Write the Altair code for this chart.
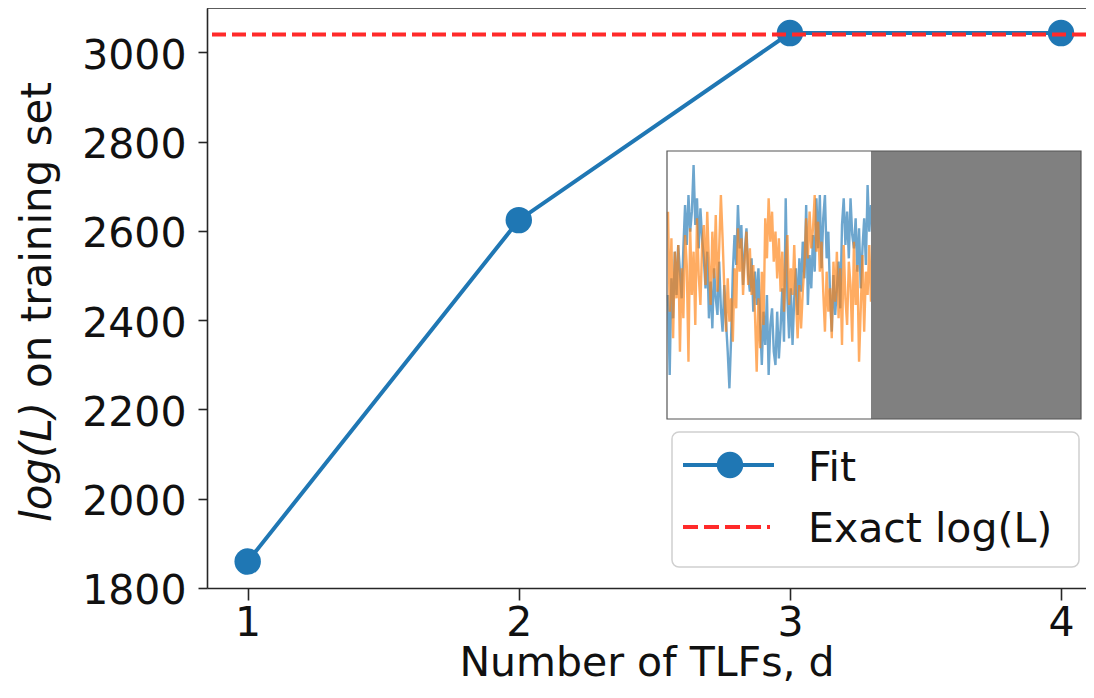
import altair as alt
import pandas as pd

# ---------------- data ----------------
d_vals = [1, 2, 3, 4]
fit_vals = [1859, 2624, 3043, 3043]
exact_val = 3040
x_ticks = [1, 2, 3, 4]
y_ticks = [1800, 2000, 2200, 2400, 2600, 2800, 3000]

# inset time series (arbitrary units)
inset_blue = [
    -0.5, -2.9, 0.0, -1.2,
    0.8, -0.5, 1.0, 0.2, -0.6, 0.9,
    2.2, 1.0, 2.5, 1.4, 2.0, 3.4, 1.6, 2.4, 0.9, 2.1, 1.2, 0.6,
    -0.3, 0.8, -1.2, -0.1, -1.5, 0.3, -0.6, -1.1, 0.5, -0.9, -1.6, -0.2, -1.3, -2.2,
    -3.3, -1.8, 0.2,
    1.3, 0.4, 2.2, 0.9, 1.6, -0.2, 0.8, 1.5, 0.1,
    -0.4, 0.6, -1.0, 0.2, -0.8, 0.3, -1.3,
    -2.6, -1.0, -2.0, -0.5, -2.9, -1.4, -0.9,
    -2.2, -2.6, -1.0, -2.4, -1.5, -0.3, -1.9, 2.4, -0.6,
    -1.8, -0.3, -2.0, -0.6, 0.3, -1.1,
    0.6, -0.4, 1.1, 0.0, 2.2, -0.8, 0.7, -0.3, 1.3, 0.2, 2.4, 0.9,
    2.5, 0.3, 1.8, 2.5, 0.6, 1.4,
    -0.5, -1.6, 0.1, -1.1, -0.3, 0.5, -0.9, 1.6,
    2.4, 1.0, 2.0, 0.6, 2.4, 1.3, 0.9, 1.8,
    0.2, 1.5, -0.3, 0.9, 1.8, 0.4,
    2.8, 1.4, 2.2,
]
inset_orange = [
    2.0, -1.0, 1.2, -1.8,
    0.8, -0.6, 1.0, -2.2, 0.3, -1.2, 1.3,
    0.4, -2.5, 1.5, -0.5, 0.8, -1.4, 1.8, 0.1, -0.8, 1.0,
    1.6, -0.2, 2.0, 0.5, -0.8, 1.4, 0.0, 1.9, -0.4, 0.9, 2.5, 1.2,
    -0.3, -1.6, 0.0, -1.3, -0.6, -1.9, 0.3, -0.9,
    1.5, 0.2, 1.2, -0.5, 0.6, 1.4, -0.2, 0.9, -0.5, 0.4, -1.1, -2.8,
    -0.6, -2.1, 0.2, -1.4,
    1.8, 0.6, 2.4, 1.1, 2.0, 0.5, 1.4, 0.0,
    1.2, -0.4, 0.8, -1.0, 0.5, 1.3, -0.8, 0.3, -0.5, 1.0,
    -0.6, -1.8, -0.2, -1.5, -0.4, 0.4,
    1.8, 0.6, 2.0, 0.9, 1.5, 2.5, 0.8, 1.7, 0.2, 1.1,
    -0.4, -1.6, 0.2, -1.0, -0.3, -1.8, 0.5, -0.7,
    0.8, -1.2, 0.3, -2.0, 1.0, -0.6, -1.4, 0.5,
    -0.2, -1.9, 1.1, -0.8, 0.4, -2.5, -0.9, 0.7, -1.6, 0.2, -0.5, 1.0, -0.7,
]

legend_labels = ["Fit", "Exact log(L)"]
x_title = "Number of TLFs, d"
y_title_italic = "log(L)"
y_title_rest = "on training set"

# ---------------- styling ----------------
W, H = 879, 580
FONT = "DejaVu Sans"
BLUE = "#1f77b4"
ORANGE = "#ff7f0e"
RED = "#ff2a2a"
INK = "#111111"
SPINE = "#262626"

one = pd.DataFrame({"k": [0]})

xs = alt.Scale(domain=[0.85, 4.092], nice=False, zero=False)
ys = alt.Scale(domain=[1799.8, 3099.2], nice=False, zero=False)

main_df = pd.DataFrame({"d": d_vals, "logL": fit_vals})

line = alt.Chart(main_df).mark_line(color=BLUE, strokeWidth=4).encode(
    x=alt.X("d:Q", scale=xs, axis=alt.Axis(
        values=x_ticks, title=x_title, format="d", grid=False,
        domainColor=SPINE, domainWidth=1.6, tickColor=SPINE, tickWidth=1.6,
        tickSize=12, labelPadding=3, labelFont=FONT, labelFontSize=41,
        labelColor=INK, titleFont=FONT, titleFontSize=41, titleFontWeight="normal",
        titleColor=INK, titlePadding=0)),
    y=alt.Y("logL:Q", scale=ys, axis=alt.Axis(
        values=y_ticks, title=None, format="d", grid=False,
        domainColor=SPINE, domainWidth=1.6, tickColor=SPINE, tickWidth=1.6,
        tickSize=9, labelPadding=12, labelOffset=4, labelFont=FONT,
        labelFontSize=41, labelColor=INK)),
)

pts = alt.Chart(main_df).mark_point(filled=True, size=700, color=BLUE, opacity=1).encode(
    x=alt.X("d:Q", scale=xs, axis=None),
    y=alt.Y("logL:Q", scale=ys, axis=None),
)

exact = alt.Chart(pd.DataFrame({"v": [exact_val]})).mark_rule(
    color=RED, strokeWidth=4, strokeDash=[14, 6]).encode(
    y=alt.Y("v:Q", scale=ys, axis=None),
)

top_spine = alt.Chart(one).mark_rule(color=SPINE, strokeWidth=1.6).encode(
    x=alt.value(0), x2=alt.value(W), y=alt.value(0))

# ---------------- inset ----------------
n = len(inset_blue)
ix = alt.Scale(domain=[0, n - 1], range=[461, 664], nice=False, zero=False)
iy = alt.Scale(domain=[-4.22, 3.82], range=[411, 143], nice=False, zero=False)

blue_df = pd.DataFrame({"i": list(range(n)), "v": inset_blue})
orange_df = pd.DataFrame({"i": list(range(len(inset_orange))), "v": inset_orange})

inset_bg = alt.Chart(one).mark_rect(color="white").encode(
    x=alt.value(460), x2=alt.value(874), y=alt.value(143), y2=alt.value(411))

blue_line = alt.Chart(blue_df).mark_line(color=BLUE, strokeWidth=2.4, opacity=0.65).encode(
    x=alt.X("i:Q", scale=ix, axis=None), y=alt.Y("v:Q", scale=iy, axis=None))
orange_line = alt.Chart(orange_df).mark_line(color=ORANGE, strokeWidth=2.4, opacity=0.65).encode(
    x=alt.X("i:Q", scale=ix, axis=None), y=alt.Y("v:Q", scale=iy, axis=None))

gray = alt.Chart(one).mark_rect(color="#808080").encode(
    x=alt.value(664), x2=alt.value(874), y=alt.value(143), y2=alt.value(411))

frame = alt.Chart(one).mark_rect(fillOpacity=0, stroke="#555555", strokeWidth=1.2).encode(
    x=alt.value(460), x2=alt.value(874), y=alt.value(143), y2=alt.value(411))

# ---------------- legend ----------------
leg_box = alt.Chart(one).mark_rect(
    fill="white", fillOpacity=0.85, stroke="#d0d0d0", strokeWidth=1.5, cornerRadius=7).encode(
    x=alt.value(465), x2=alt.value(872), y=alt.value(424), y2=alt.value(559))
leg_fit_line = alt.Chart(one).mark_rule(color=BLUE, strokeWidth=4).encode(
    x=alt.value(476), x2=alt.value(567), y=alt.value(457))
leg_fit_pt = alt.Chart(one).mark_point(filled=True, size=700, color=BLUE, opacity=1).encode(
    x=alt.value(523), y=alt.value(457))
leg_exact = alt.Chart(one).mark_rule(color=RED, strokeWidth=4, strokeDash=[15, 6]).encode(
    x=alt.value(476), x2=alt.value(563), y=alt.value(519))
leg_t1 = alt.Chart(one).mark_text(
    text=legend_labels[0], font=FONT, fontSize=41, align="left", baseline="alphabetic",
    color=INK).encode(x=alt.value(601), y=alt.value(473))
leg_t2 = alt.Chart(one).mark_text(
    text=legend_labels[1], font=FONT, fontSize=41, align="left", baseline="alphabetic",
    color=INK).encode(x=alt.value(601), y=alt.value(534))

# ---------------- y-axis title (mixed italic) ----------------
yt1 = alt.Chart(one).mark_text(
    text=y_title_italic, font=FONT, fontSize=42, fontStyle="italic", angle=270,
    align="left", baseline="alphabetic", color=INK).encode(
    x=alt.value(-156), y=alt.value(514))
yt2 = alt.Chart(one).mark_text(
    text=y_title_rest, font=FONT, fontSize=42, angle=270,
    align="left", baseline="alphabetic", color=INK).encode(
    x=alt.value(-156), y=alt.value(380))

chart = alt.layer(
    line, pts, exact, top_spine,
    inset_bg, blue_line, orange_line, gray, frame,
    leg_box, leg_fit_line, leg_fit_pt, leg_exact, leg_t1, leg_t2,
    yt1, yt2,
).resolve_scale(
    x="independent", y="independent"
).properties(
    width=W, height=H,
    padding={"left": 199, "top": 0, "right": 0, "bottom": 98},
    autosize=alt.AutoSizeParams(type="none"),
).configure_view(stroke=None)

chart.save("out.html", embed_options={"renderer": "svg", "actions": False})
